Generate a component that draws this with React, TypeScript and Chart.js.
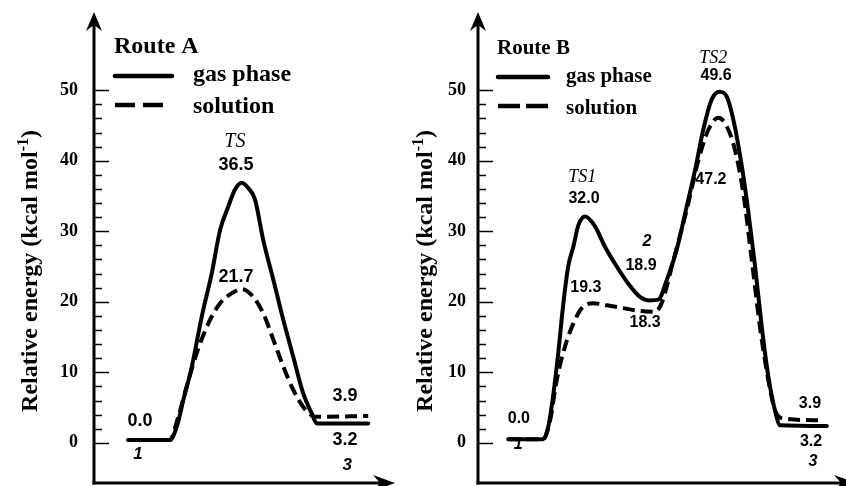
import React, { useEffect, useRef } from "react";
import { Chart, registerables } from "chart.js";

Chart.register(...registerables);

// ---------- data ----------
const GAS_LABEL = "gas phase";
const SOL_LABEL = "solution";
const Y_TICKS = [0, 2, 4, 6, 8, 10, 12, 14, 16, 18, 20, 22, 24, 26, 28, 30, 32, 34, 36, 38, 40, 42, 44, 46, 48, 50];
const Y_TITLE_MAIN = "Relative energy (kcal mol";
const Y_TITLE_SUP = "-1";
const Y_TITLE_END = ")";

// Route A (reaction coordinate 0..100, energy kcal/mol)
const A_GAS_X = [11.3, 25.2, 27.5, 29.7, 32.5, 35.8, 39.1, 41.9, 44.6, 46.8, 49.1, 51.3, 53.5, 56.2, 59.6, 62.9, 66.2, 69.5, 72.3, 74.0, 91.1];
const A_GAS_Y = [0.4, 0.4, 2.3, 6.1, 10.8, 17.9, 24.0, 30.2, 33.5, 35.9, 36.9, 36.1, 34.5, 28.8, 23.1, 17.4, 12.2, 7.0, 4.2, 2.75, 2.75];
const A_SOL_X = [11.3, 25.2, 28.0, 30.8, 34.1, 38.5, 41.9, 45.7, 49.1, 52.9, 56.2, 59.6, 62.9, 66.2, 69.5, 72.3, 74.0, 91.1];
const A_SOL_Y = [0.4, 0.4, 3.7, 8.0, 12.7, 17.4, 19.8, 21.2, 21.8, 20.7, 18.4, 14.6, 10.8, 7.5, 5.1, 3.9, 3.7, 3.8];
const A_NOTE_TEXT = ["TS", "36.5", "21.7", "0.0", "1", "3.9", "3.2", "3"];
const A_NOTE_X = [46.8, 47.2, 47.2, 15.3, 14.6, 83.4, 83.4, 84.1];
const A_NOTE_Y = [42.7, 39.4, 23.5, 3.1, -1.6, 6.6, 0.4, -3.2];
const A_NOTE_KIND = ["ts", "num", "num", "num", "id", "num", "num", "id"];

// Route B
const B_GAS_X = [8.2, 17.7, 19.1, 20.5, 21.8, 23.2, 24.5, 25.9, 27.3, 29.1, 31.8, 34.5, 37.7, 40.8, 44.0, 46.7, 49.0, 51.3, 54.0, 56.7, 59.0, 61.2, 63.5, 65.6, 67.6, 69.4, 71.7, 73.5, 75.3, 77.1, 78.9, 80.7, 82.1, 94.8];
const B_GAS_Y = [0.5, 0.5, 2.3, 7.0, 12.7, 19.8, 25.0, 27.8, 30.9, 32.1, 30.7, 27.8, 25.0, 22.6, 20.7, 20.2, 20.3, 23.1, 27.4, 33.5, 38.7, 44.4, 48.7, 49.8, 49.1, 45.8, 39.2, 32.6, 25.0, 16.5, 9.4, 4.6, 2.5, 2.4];
const B_SOL_X = [8.2, 17.7, 19.6, 21.4, 23.6, 25.9, 28.2, 31.3, 35.0, 39.5, 44.0, 48.1, 49.9, 53.1, 56.7, 59.9, 62.6, 65.3, 67.6, 69.8, 72.1, 74.4, 76.6, 78.9, 80.7, 82.5, 92.5];
const B_SOL_Y = [0.5, 0.5, 3.2, 8.9, 13.6, 16.9, 19.1, 19.8, 19.5, 19.1, 18.7, 18.6, 19.8, 25.9, 33.0, 40.1, 44.4, 46.1, 44.9, 41.6, 35.4, 25.9, 16.5, 8.9, 4.6, 3.5, 3.2];
const B_NOTE_TEXT = ["TS2", "49.6", "47.2", "TS1", "32.0", "2", "18.9", "19.3", "18.3", "0.0", "1", "3.9", "3.2", "3"];
const B_NOTE_X = [63.9, 64.7, 63.3, 28.3, 28.8, 45.9, 44.3, 29.3, 45.4, 11.1, 10.9, 90.2, 90.5, 91.0];
const B_NOTE_Y = [54.6, 52.1, 37.4, 37.7, 34.6, 28.5, 25.2, 22.0, 17.1, 3.4, -0.3, 5.5, 0.2, -2.6];
const B_NOTE_KIND = ["ts", "num", "num", "ts", "num", "id", "num", "num", "num", "num", "id", "num", "num", "id"];

// ---------- styles / layout ----------
const SERIF = '"Liberation Serif", "Times New Roman", serif';
const SANS = '"Liberation Sans", Arial, sans-serif';

const PANELS = [
  {
    route: "Route A",
    gasX: A_GAS_X, gasY: A_GAS_Y, solX: A_SOL_X, solY: A_SOL_Y,
    noteText: A_NOTE_TEXT, noteX: A_NOTE_X, noteY: A_NOTE_Y, noteKind: A_NOTE_KIND,
    canvasLeft: 0, width: 400, axisLeft: 94, padRight: 5, arrowOver: 0, tickPad: 16, titleX: 29,
    legend: { x: 114, routeBase: 53, lineX1: 172, solX1: 163, gasY: 76, gasBase: 81, solY: 105, solBase: 113, textX: 193, size: 24, dash: [20, 8] },
    fonts: { num: 18, ts: 20, id: 17 },
  },
  {
    route: "Route B",
    gasX: B_GAS_X, gasY: B_GAS_Y, solX: B_SOL_X, solY: B_SOL_Y,
    noteText: B_NOTE_TEXT, noteX: B_NOTE_X, noteY: B_NOTE_Y, noteKind: B_NOTE_KIND,
    canvasLeft: 400, width: 446, axisLeft: 78, padRight: 0, arrowOver: 10, tickPad: 12, titleX: 24,
    legend: { x: 97, routeBase: 54, lineX1: 148, solX1: 148, gasY: 77, gasBase: 82, solY: 106, solBase: 114, textX: 166, size: 21, dash: [22, 6] },
    fonts: { num: 16, ts: 18, id: 16 },
  },
];

const zip = (xs: number[], ys: number[]) => xs.map((x, i) => ({ x, y: ys[i] }));

const decorPlugin = {
  id: "decor",
  afterDraw(chart: any, _args: any, opts: any) {
    const cfg = opts.cfg;
    const { ctx, chartArea: ca, scales } = chart;
    const xs = scales.x;
    const ys = scales.y;
    ctx.save();
    ctx.strokeStyle = "#000";
    ctx.fillStyle = "#000";

    // axes
    ctx.lineWidth = 3;
    ctx.lineCap = "butt";
    ctx.beginPath();
    ctx.moveTo(ca.left, ca.bottom + 1.5);
    ctx.lineTo(ca.left, ca.top + 8);
    ctx.stroke();
    const tipX = ca.right + cfg.arrowOver;
    ctx.beginPath();
    ctx.moveTo(ca.left - 1.5, ca.bottom);
    ctx.lineTo(tipX - 8, ca.bottom);
    ctx.stroke();
    // y arrow
    ctx.beginPath();
    ctx.moveTo(ca.left, ca.top);
    ctx.lineTo(ca.left - 8, ca.top + 19);
    ctx.lineTo(ca.left, ca.top + 13);
    ctx.lineTo(ca.left + 8, ca.top + 19);
    ctx.closePath();
    ctx.fill();
    // x arrow
    ctx.beginPath();
    ctx.moveTo(tipX, ca.bottom);
    ctx.lineTo(tipX - 22, ca.bottom - 8);
    ctx.lineTo(tipX - 15, ca.bottom);
    ctx.lineTo(tipX - 22, ca.bottom + 8);
    ctx.closePath();
    ctx.fill();

    // inward tick marks
    ctx.lineWidth = 1.5;
    Y_TICKS.forEach((v) => {
      const py = Math.round(ys.getPixelForValue(v)) + 0.5;
      const len = v % 10 === 0 ? 15 : 8;
      ctx.beginPath();
      ctx.moveTo(ca.left, py);
      ctx.lineTo(ca.left + len, py);
      ctx.stroke();
    });

    // y title with superscript
    ctx.save();
    ctx.translate(cfg.titleX, 271);
    ctx.rotate(-Math.PI / 2);
    ctx.textBaseline = "alphabetic";
    ctx.textAlign = "left";
    const bigFont = `bold 24px ${SERIF}`;
    const supFont = `bold 16px ${SERIF}`;
    ctx.font = bigFont;
    const w1 = ctx.measureText(Y_TITLE_MAIN).width;
    const w3 = ctx.measureText(Y_TITLE_END).width;
    ctx.font = supFont;
    const w2 = ctx.measureText(Y_TITLE_SUP).width;
    const start = -(w1 + w2 + w3) / 2;
    ctx.font = bigFont;
    ctx.fillText(Y_TITLE_MAIN, start, 8);
    ctx.font = supFont;
    ctx.fillText(Y_TITLE_SUP, start + w1, -1);
    ctx.font = bigFont;
    ctx.fillText(Y_TITLE_END, start + w1 + w2, 8);
    ctx.restore();

    // legend
    const lg = cfg.legend;
    const ds = chart.data.datasets;
    ctx.textAlign = "left";
    ctx.textBaseline = "alphabetic";
    ctx.font = `bold ${lg.size}px ${SERIF}`;
    ctx.fillText(cfg.route, lg.x, lg.routeBase);
    ctx.lineWidth = 4.5;
    ctx.lineCap = "round";
    ctx.beginPath();
    ctx.moveTo(lg.x + 1, lg.gasY);
    ctx.lineTo(lg.lineX1, lg.gasY);
    ctx.stroke();
    ctx.fillText(ds[0].label, lg.textX, lg.gasBase);
    ctx.lineCap = "butt";
    ctx.setLineDash(lg.dash);
    ctx.beginPath();
    ctx.moveTo(lg.x + 1, lg.solY);
    ctx.lineTo(lg.solX1, lg.solY);
    ctx.stroke();
    ctx.setLineDash([]);
    ctx.fillText(ds[1].label, lg.textX, lg.solBase);

    // annotations
    ctx.textAlign = "center";
    ctx.textBaseline = "middle";
    cfg.noteText.forEach((t: string, i: number) => {
      const kind = cfg.noteKind[i];
      const size = cfg.fonts[kind];
      if (kind === "ts") ctx.font = `italic ${size}px ${SERIF}`;
      else if (kind === "id") ctx.font = `italic bold ${size}px ${SANS}`;
      else ctx.font = `bold ${size}px ${SANS}`;
      ctx.fillText(t, xs.getPixelForValue(cfg.noteX[i]), ys.getPixelForValue(cfg.noteY[i]));
    });

    ctx.restore();
  },
};

function Panel({ cfg }: { cfg: any }) {
  const ref = useRef<HTMLCanvasElement>(null);
  useEffect(() => {
    if (!ref.current) return;
    const chart = new Chart(ref.current, {
      type: "line",
      data: {
        datasets: [
          {
            label: GAS_LABEL,
            data: zip(cfg.gasX, cfg.gasY),
            borderColor: "#000",
            borderWidth: 4,
            pointRadius: 0,
            fill: false,
            cubicInterpolationMode: "monotone",
            borderCapStyle: "round",
            borderJoinStyle: "round",
          },
          {
            label: SOL_LABEL,
            data: zip(cfg.solX, cfg.solY),
            borderColor: "#000",
            borderWidth: 4,
            borderDash: [12, 6],
            pointRadius: 0,
            fill: false,
            cubicInterpolationMode: "monotone",
            borderCapStyle: "butt",
            borderJoinStyle: "round",
          },
        ],
      },
      options: {
        animation: false,
        responsive: false,
        devicePixelRatio: 1,
        layout: { padding: { left: 0, top: 12, right: cfg.padRight, bottom: 3 } },
        plugins: {
          legend: { display: false },
          tooltip: { enabled: false },
          decor: { cfg },
        } as any,
        scales: {
          x: { type: "linear", min: 0, max: 100, display: false },
          y: {
            type: "linear",
            min: -5.7,
            max: 61.1,
            grid: { display: false, drawTicks: false },
            border: { display: false },
            afterBuildTicks: (s: any) => {
              s.ticks = Y_TICKS.map((v) => ({ value: v }));
            },
            afterFit: (s: any) => {
              s.width = cfg.axisLeft;
              s.paddingTop = 0;
              s.paddingBottom = 0;
            },
            ticks: {
              autoSkip: false,
              padding: cfg.tickPad,
              color: "#000",
              font: { family: SERIF, weight: "bold", size: 18 },
              callback: (v: any) => (Number(v) % 10 === 0 ? String(v) : ""),
            },
          },
        },
      } as any,
      plugins: [decorPlugin],
    });
    return () => chart.destroy();
  }, [cfg]);
  return (
    <canvas
      ref={ref}
      width={cfg.width}
      height={486}
      style={{ position: "absolute", left: cfg.canvasLeft, top: 0, width: cfg.width, height: 486 }}
    />
  );
}

export default function App() {
  return (
    <div style={{ position: "absolute", left: 0, top: 0, width: 846, height: 486, background: "#fff", overflow: "hidden" }}>
      {PANELS.map((p, i) => (
        <Panel key={i} cfg={p} />
      ))}
    </div>
  );
}
